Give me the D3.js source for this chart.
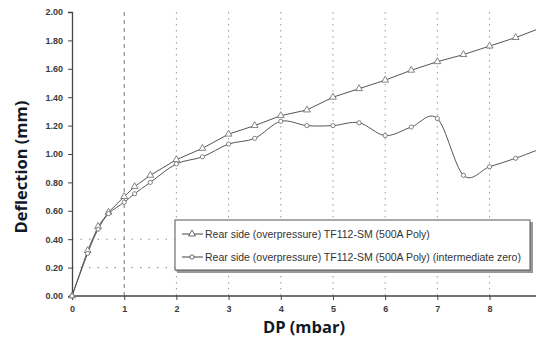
<!DOCTYPE html>
<html><head><meta charset="utf-8">
<script src="https://cdn.jsdelivr.net/npm/d3@7"></script>
<style>
html,body{margin:0;padding:0;background:#fff;}
svg{display:block;}
</style></head>
<body>
<svg id="c" width="536" height="347"></svg>
<script>
const seriesNames = [
  "Rear side (overpressure) TF112-SM (500A Poly)",
  "Rear side (overpressure) TF112-SM (500A Poly) (intermediate zero)"
];
const dpA = [0, 0.3, 0.5, 0.7, 1.0, 1.2, 1.5, 2.0, 2.5, 3.0, 3.5, 4.0, 4.5, 5.0, 5.5, 6.0, 6.5, 7.0, 7.5, 8.0, 8.5, 9.0];
const defA = [0, 0.32, 0.49, 0.59, 0.70, 0.77, 0.85, 0.96, 1.04, 1.14, 1.20, 1.27, 1.31, 1.40, 1.46, 1.52, 1.59, 1.65, 1.70, 1.76, 1.82, 1.89];
const dpB = [0, 0.3, 0.5, 0.7, 1.0, 1.2, 1.5, 2.0, 2.5, 3.0, 3.5, 4.0, 4.5, 5.0, 5.5, 6.0, 6.5, 7.0, 7.5, 8.0, 8.5, 9.0];
const defB = [0, 0.30, 0.47, 0.58, 0.66, 0.72, 0.80, 0.93, 0.98, 1.07, 1.11, 1.23, 1.20, 1.20, 1.22, 1.13, 1.19, 1.25, 0.85, 0.91, 0.97, 1.04];
const yTicks = [0, 0.2, 0.4, 0.6, 0.8, 1.0, 1.2, 1.4, 1.6, 1.8, 2.0];
const xTicks = [0, 1, 2, 3, 4, 5, 6, 7, 8];
const hGrid = [0.2, 0.4];

const svg = d3.select("#c");
const x = d3.scaleLinear().domain([0, 8.89]).range([72, 536]);
const y = d3.scaleLinear().domain([0, 2]).range([296, 12]);

svg.append("defs").append("clipPath").attr("id","pc")
  .append("rect").attr("x",60).attr("y",0).attr("width",476).attr("height",300);

const g = svg.append("g");
g.selectAll("line.v").data(xTicks.filter(d=>d>0)).join("line")
  .attr("x1",d=>x(d)).attr("x2",d=>x(d)).attr("y1",y(2)).attr("y2",y(0))
  .attr("stroke",d=>d===1?"#777":"#999").attr("stroke-width",1)
  .attr("stroke-dasharray",d=>d===1?"4,4":"1.5,4.5");
g.selectAll("line.h").data(hGrid).join("line")
  .attr("x1",x(0)).attr("x2",536).attr("y1",d=>y(d)).attr("y2",d=>y(d))
  .attr("stroke","#888").attr("stroke-width",1).attr("stroke-dasharray","1.5,7");

const yAxis = d3.axisLeft(y).tickValues(yTicks).tickFormat(d3.format(".2f")).tickSize(4).tickPadding(5);
const xAxis = d3.axisBottom(x).tickValues(xTicks).tickFormat(d3.format("d")).tickSize(4).tickPadding(6);
const ya = svg.append("g").attr("transform",`translate(${x(0)},0)`).call(yAxis);
const xa = svg.append("g").attr("transform",`translate(0,${y(0)})`).call(xAxis);
[ya,xa].forEach(a=>{
  a.select(".domain").attr("stroke","#444").attr("stroke-width",1.3);
  a.selectAll(".tick line").attr("stroke","#444");
  a.selectAll(".tick text").attr("font-family","Liberation Sans, Arial, sans-serif")
    .attr("font-size",9).attr("font-weight","bold").attr("fill","#3a3a3a");
});
xa.select(".domain").attr("d",`M${x(0)},0H536`);

const dataA = dpA.map((d,i)=>({x:d,y:defA[i]}));
const dataB = dpB.map((d,i)=>({x:d,y:defB[i]}));
const plot = svg.append("g").attr("clip-path","url(#pc)");
const lineA = d3.line().x(d=>x(d.x)).y(d=>y(d.y));
const lineB = d3.line().x(d=>x(d.x)).y(d=>y(d.y)).curve(d3.curveCardinal.tension(0));
plot.append("path").datum(dataA).attr("d",lineA).attr("fill","none").attr("stroke","#555").attr("stroke-width",1);
plot.append("path").datum(dataB).attr("d",lineB).attr("fill","none").attr("stroke","#555").attr("stroke-width",1);

const tri = d3.symbol().type(d3.symbolTriangle).size(20);
plot.selectAll("path.ta").data(dataA).join("path")
  .attr("d",tri).attr("transform",d=>`translate(${x(d.x)},${y(d.y)})`)
  .attr("fill","#fff").attr("stroke","#666").attr("stroke-width",0.8);
plot.selectAll("circle.cb").data(dataB).join("circle")
  .attr("cx",d=>x(d.x)).attr("cy",d=>y(d.y)).attr("r",2.1)
  .attr("fill","#fff").attr("stroke","#666").attr("stroke-width",0.8);

const lg = svg.append("g");
lg.append("rect").attr("x",177).attr("y",222).attr("width",356).attr("height",51).attr("fill","#999");
lg.append("rect").attr("x",175).attr("y",220).attr("width",355).attr("height",50).attr("fill","#fff").attr("stroke","#555").attr("stroke-width",1);
const items = [{n:seriesNames[0],t:"tri",yy:234},{n:seriesNames[1],t:"cir",yy:257}];
items.forEach(it=>{
  lg.append("line").attr("x1",182).attr("x2",203).attr("y1",it.yy).attr("y2",it.yy).attr("stroke","#444").attr("stroke-width",1);
  if(it.t==="tri") lg.append("path").attr("d",tri).attr("transform",`translate(192,${it.yy})`).attr("fill","#fff").attr("stroke","#555").attr("stroke-width",0.9);
  else lg.append("circle").attr("cx",192).attr("cy",it.yy).attr("r",2.1).attr("fill","#fff").attr("stroke","#555").attr("stroke-width",0.9);
  lg.append("text").attr("x",205).attr("y",it.yy+3.5).text(it.n)
    .attr("font-family","Liberation Sans, Arial, sans-serif").attr("font-size",10.5).attr("fill","#333");
});

svg.append("text").attr("transform","translate(27,167) rotate(-90)").attr("text-anchor","middle")
  .attr("font-family","Open Sans, sans-serif").attr("font-weight","bold").attr("font-size",16.5)
  .attr("fill","#111827").text("Deflection (mm)");
svg.append("text").attr("x",304).attr("y",333).attr("text-anchor","middle")
  .attr("font-family","Open Sans, sans-serif").attr("font-weight","bold").attr("font-size",16.5)
  .attr("fill","#111827").text("DP (mbar)");
</script>
</body></html>
